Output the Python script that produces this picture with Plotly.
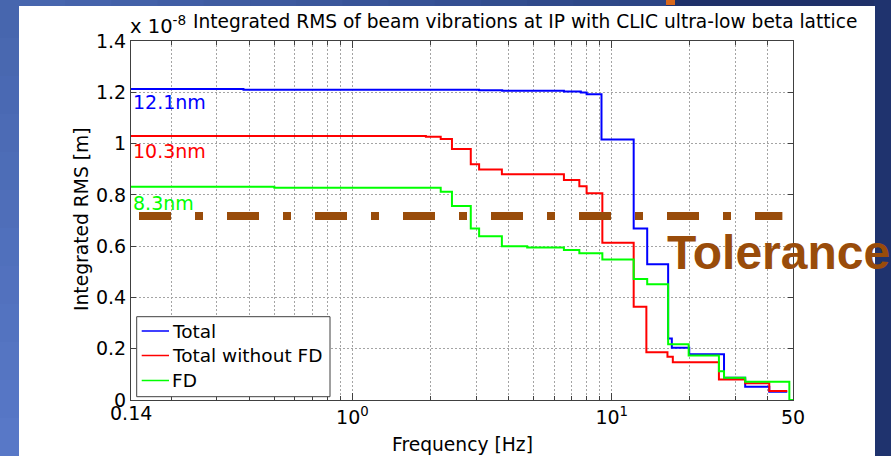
import math
import plotly.graph_objects as go

# ---------------- data (integrated RMS in units of 1e-8 m) ----------------
freq_total = [0.14, 0.38, 3.08, 3.78, 6.54, 7.6, 8.0, 9.13, 12.15, 13.7, 16.5, 17.05, 19.9, 27.1, 32.7, 40.5, 47.5]
rms_total = [1.213, 1.210, 1.208, 1.206, 1.203, 1.199, 1.192, 1.016, 0.669, 0.529, 0.240, 0.204, 0.178, 0.087, 0.052, 0.032, 0.032]

freq_nofd = [0.14, 1.92, 2.19, 2.42, 2.86, 3.08, 3.77, 6.54, 7.5, 8.0, 9.2, 12.15, 13.6, 16.4, 17.2, 25.9, 32.7, 40.5, 47.5]
rms_nofd = [1.030, 1.027, 1.018, 0.979, 0.919, 0.899, 0.880, 0.858, 0.834, 0.806, 0.613, 0.364, 0.186, 0.169, 0.147, 0.080, 0.065, 0.035, 0.035]

freq_fd = [0.14, 0.5, 2.19, 2.42, 2.86, 3.08, 3.77, 4.72, 6.54, 7.5, 9.2, 12.15, 13.7, 16.5, 19.8, 25.9, 27.1, 32.7, 48.4, 50]
rms_fd = [0.832, 0.828, 0.812, 0.757, 0.669, 0.639, 0.600, 0.595, 0.585, 0.572, 0.548, 0.472, 0.451, 0.217, 0.174, 0.112, 0.087, 0.071, 0.0, 0.0]

tolerance_x = [0.1503, 45.5]
tolerance_y = [0.718, 0.718]

series_names = ["Total", "Total without FD", "FD"]
end_labels = ["12.1nm", "10.3nm", "8.3nm"]

x_major_ticks = [0.14, 1, 10, 50]
x_major_text = ["", "10<sup>0</sup>", "10<sup>1</sup>", "50"]
x_minor_ticks = [0.2, 0.3, 0.4, 0.5, 0.6, 0.7, 0.8, 0.9, 2, 3, 4, 5, 6, 7, 8, 9, 20, 30, 40]
y_ticks = [0, 0.2, 0.4, 0.6, 0.8, 1.0, 1.2, 1.4]

# ---------------- layout helpers ----------------
W, H = 891, 456
L, R, T, B = 131, 98, 41, 56
PW, PH = W - L - R, H - T - B


def px(xp):
    return (xp - L) / PW


def py(yp):
    return (H - B - yp) / PH


FONT = "DejaVu Sans"
BLUE, RED, GREEN = "#0000ff", "#ff0000", "#00ff00"
COLORS = [BLUE, RED, GREEN]
BROWN = "#994c0a"
AX = "#404040"
GRID = "#a4a4a4"
GDASH = "2px,2px"

fig = go.Figure()
for fx, fy, nm, col in zip([freq_total, freq_nofd, freq_fd], [rms_total, rms_nofd, rms_fd], series_names, COLORS):
    fig.add_trace(go.Scatter(x=fx, y=fy, mode="lines", name=nm, showlegend=False,
                             line=dict(color=col, width=2, shape="hv")))
fig.add_trace(go.Scatter(x=tolerance_x, y=tolerance_y, mode="lines", showlegend=False,
                         line=dict(color=BROWN, width=8, dash="32px,24px,8px,24px")))


def lerp_col(c1, c2, t):
    a = [int(c1[i:i + 2], 16) for i in (1, 3, 5)]
    b = [int(c2[i:i + 2], 16) for i in (1, 3, 5)]
    return "#%02x%02x%02x" % tuple(round(a[k] + (b[k] - a[k]) * t) for k in range(3))


shapes = []


def rect(x0, y0, x1, y1, color, layer="below", line=None):
    shapes.append(dict(type="rect", xref="paper", yref="paper", x0=px(x0), x1=px(x1), y0=py(y1), y1=py(y0),
                       fillcolor=color, line=line or dict(width=0), layer=layer))


# slide background: left strip vertical gradient
n = 12
for i in range(n):
    rect(0, H * i / n, 20, H * (i + 1) / n + 1, lerp_col("#4766ae", "#5878c7", i / (n - 1)))
# top strip horizontal gradient
n = 14
for i in range(n):
    x0 = 19 + (666 - 19) * i / n
    x1 = 19 + (666 - 19) * (i + 1) / n + 1
    rect(x0, 0, x1, 7, lerp_col("#4766ae", "#2c4585", i / (n - 1)))
rect(666, 0, 891, 7, "#1f3169")
rect(666, 0, 675, 5, "#d8681c")
rect(874, 0, 891, H, "#1f336e")
# white figure panel (around the plot area, which has its own white background)
rect(19, 6, L, H, "#ffffff")
rect(W - R, 6, 875, H, "#ffffff")
rect(L - 1, 6, W - R + 1, T, "#ffffff")
rect(L - 1, H - B, W - R + 1, H, "#ffffff")

# legend box (drawn by hand to match the compact MATLAB legend)
leg_x0, leg_x1, leg_y0, leg_y1 = 136.7, 330, 316.7, 396.7
rect(leg_x0, leg_y0, leg_x1, leg_y1, "#ffffff", layer="above", line=dict(color=AX, width=1))
leg_rows = [331, 355.5, 380.5]
for col, yr in zip(COLORS, leg_rows):
    shapes.append(dict(type="line", xref="paper", yref="paper", x0=px(141.7), x1=px(169), y0=py(yr), y1=py(yr),
                       line=dict(color=col, width=1.5), layer="above"))

annotations = []
for nm, yr in zip(series_names, leg_rows):
    annotations.append(dict(text=nm, xref="paper", yref="paper", x=px(170), y=py(yr),
                            xanchor="left", yanchor="middle", showarrow=False,
                            font=dict(family=FONT, size=18.5, color="black")))
# title and exponent
annotations.append(dict(text="Integrated RMS of beam vibrations at IP with CLIC ultra-low beta lattice",
                        xref="paper", yref="paper", x=px(524.5), y=py(21.2), xanchor="center", yanchor="middle",
                        showarrow=False, font=dict(family=FONT, size=18.6, color="black")))
annotations.append(dict(text="x 10<sup>-8</sup>", xref="paper", yref="paper", x=px(128), y=py(40),
                        xanchor="left", yanchor="bottom", showarrow=False,
                        font=dict(family=FONT, size=19.5, color="black")))
# axis titles
annotations.append(dict(text="Integrated RMS [m]", xref="paper", yref="paper", x=px(82), y=py(219),
                        xanchor="center", yanchor="middle", textangle=-90, showarrow=False,
                        font=dict(family=FONT, size=18.7, color="black")))
annotations.append(dict(text="Frequency [Hz]", xref="paper", yref="paper", x=px(462), y=py(444),
                        xanchor="center", yanchor="middle", showarrow=False,
                        font=dict(family=FONT, size=18.7, color="black")))
# first x tick label (sits higher than the others in the reference)
annotations.append(dict(text="0.14", xref="x", yref="paper", x=math.log10(x_major_ticks[0]), y=py(413),
                        xanchor="center", yanchor="middle", showarrow=False,
                        font=dict(family=FONT, size=19, color="black")))
# value labels
for txt, col, yc in zip(end_labels, COLORS, [102.5, 150.5, 202.5]):
    annotations.append(dict(text=txt, xref="paper", yref="paper", x=px(131), y=py(yc),
                            xanchor="left", yanchor="middle", showarrow=False,
                            font=dict(family=FONT, size=19, color=col)))
# tolerance label
annotations.append(dict(text="<b>Tolerance</b>", xref="paper", yref="paper", x=px(665), y=py(252),
                        xanchor="left", yanchor="middle", showarrow=False,
                        font=dict(family="Liberation Sans", size=48, color=BROWN)))

fig.update_layout(
    width=W, height=H,
    margin=dict(l=L, r=R, t=T, b=B, pad=0),
    paper_bgcolor="#4a69b2",
    plot_bgcolor="#ffffff",
    shapes=shapes,
    annotations=annotations,
    showlegend=False,
    xaxis=dict(type="log", range=[math.log10(0.14), math.log10(50)],
               tickmode="array", tickvals=x_major_ticks, ticktext=x_major_text,
               ticks="inside", ticklen=7, tickwidth=1, tickcolor=AX,
               showline=True, linecolor=AX, linewidth=1, mirror="ticks",
               showgrid=True, gridcolor=GRID, gridwidth=1, griddash=GDASH,
               zeroline=False, layer="below traces",
               tickfont=dict(family=FONT, size=19, color="black"),
               minor=dict(tickmode="array", tickvals=x_minor_ticks, ticks="inside", ticklen=4,
                          tickcolor=AX, showgrid=True, gridcolor=GRID, gridwidth=1, griddash=GDASH)),
    yaxis=dict(range=[0, 1.4], tickmode="array", tickvals=y_ticks,
               ticks="inside", ticklen=5, tickwidth=1, tickcolor=AX,
               showline=True, linecolor=AX, linewidth=1, mirror="ticks",
               showgrid=True, gridcolor=GRID, gridwidth=1, griddash=GDASH,
               zeroline=False,
               tickfont=dict(family=FONT, size=19, color="black")),
)

fig.write_html("out.html", config={"displayModeBar": False})
